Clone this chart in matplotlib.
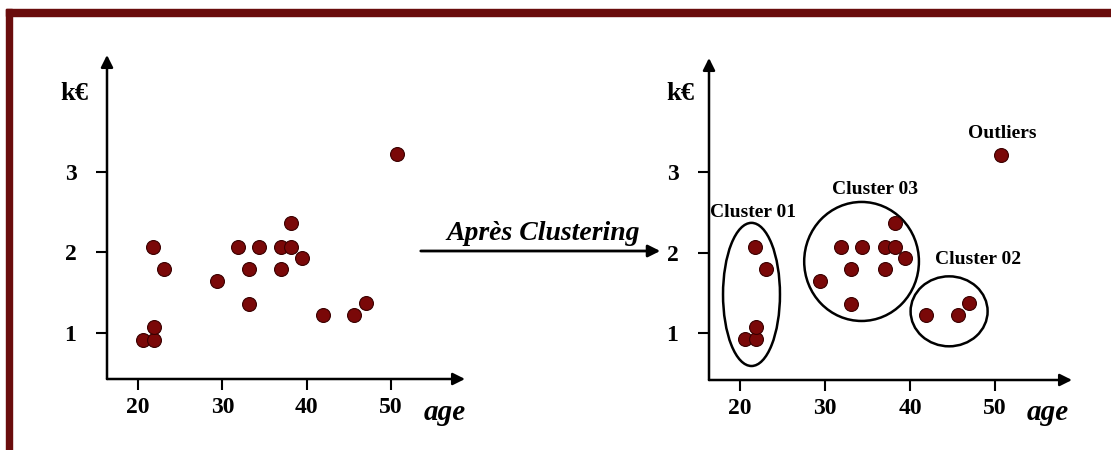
import matplotlib
matplotlib.use('Agg')
import matplotlib.pyplot as plt
from matplotlib.patches import Ellipse, Rectangle, FancyArrowPatch

plt.rcParams['font.family'] = ['Liberation Serif', 'DejaVu Serif']

# data (age, k€)
age = [21.8, 23.1, 20.6, 21.9, 21.9, 29.4, 31.9, 34.4, 33.1, 33.1,
       37.0, 38.2, 38.2, 39.4, 37.0, 41.9, 45.6, 47.0, 50.7]
income = [2.07, 1.80, 0.92, 0.92, 1.07, 1.65, 2.07, 2.07, 1.80, 1.36,
          2.07, 2.07, 2.37, 1.93, 1.80, 1.22, 1.22, 1.37, 3.22]

x_ticks = [20, 30, 40, 50]
y_ticks = [1, 2, 3]

# clusters: name, center, width, height, label position
cluster_names = ['Cluster 01', 'Cluster 03', 'Cluster 02']
cluster_centers = [(21.35, 1.48), (34.3, 1.89), (44.6, 1.27)]
cluster_sizes = [(6.7, 1.78), (13.5, 1.48), (9.06, 0.87)]
cluster_label_pos = [(21.5, 2.50), (35.9, 2.79), (48.0, 1.91)]
outlier_label_pos = (50.8, 3.48)

W, H = 1111, 450
fig = plt.figure(figsize=(W / 100, H / 100), dpi=100)

dot_color = '#7a0808'
frame_color = '#6a0d0d'


def px_box(x0, y_top, x1, y_bottom):
    return [x0 / W, 1 - y_bottom / H, (x1 - x0) / W, (y_bottom - y_top) / H]


def setup(ax, xlim, ylim):
    ax.set_xlim(*xlim)
    ax.set_ylim(*ylim)
    for s in ax.spines.values():
        s.set_visible(False)
    ax.patch.set_alpha(0)
    ax.set_xticks(x_ticks)
    ax.set_yticks(y_ticks)
    ax.tick_params(axis='x', direction='out', length=8, width=1.5, pad=5,
                   labelsize=17)
    ax.tick_params(axis='y', direction='out', length=8, width=1.5, pad=14,
                   labelsize=17)
    for lab in ax.get_xticklabels() + ax.get_yticklabels():
        lab.set_fontweight('bold')
    arrow = dict(arrowstyle='-|>', color='black', lw=1.8, mutation_scale=18,
                 shrinkA=0, shrinkB=0)
    ax.annotate('', xy=(1, 0), xytext=(0, 0), xycoords='axes fraction',
                arrowprops=arrow, annotation_clip=False)
    ax.annotate('', xy=(0, 1), xytext=(0, 0), xycoords='axes fraction',
                arrowprops=arrow, annotation_clip=False)
    ax.scatter(age, income, s=100, color=dot_color, edgecolor='#3a0000',
               linewidth=0.8, zorder=3, clip_on=False)


ax1 = fig.add_axes(px_box(107, 55, 465, 379))
setup(ax1, (16.3, 58.8), (0.43, 4.45))

ax2 = fig.add_axes(px_box(709, 58, 1072, 380))
setup(ax2, (16.35, 59.06), (0.416, 4.42))

for name, c, sz, lp in zip(cluster_names, cluster_centers, cluster_sizes,
                           cluster_label_pos):
    ax2.add_patch(Ellipse(c, sz[0], sz[1], fill=False, edgecolor='black',
                          lw=1.8, zorder=2))
    ax2.text(lp[0], lp[1], name, ha='center', va='center', fontsize=14,
             fontweight='bold')
ax2.text(outlier_label_pos[0], outlier_label_pos[1], 'Outliers',
         ha='center', va='center', fontsize=14, fontweight='bold')

# axis labels
for x in (74, 680):
    fig.text(x / W, 1 - 93 / H, 'k€', ha='center', va='center',
             fontsize=19, fontweight='bold')
for x in (445, 1048):
    fig.text(x / W, 1 - 413 / H, 'age', ha='center', va='center',
             fontsize=21, fontstyle='italic', fontweight='bold')

# middle arrow
fig.patches.append(FancyArrowPatch(
    (418 / W, 1 - 251 / H), (663 / W, 1 - 251 / H),
    transform=fig.transFigure, arrowstyle='-|>', mutation_scale=18,
    color='black', lw=2))
fig.text(543 / W, 1 - 234 / H, 'Après Clustering', ha='center',
         va='center', fontsize=20, fontstyle='italic', fontweight='bold')

# dark red frame (top and left)
fig.patches.append(Rectangle((6 / W, 1 - 16 / H), 1, 7 / H,
                             transform=fig.transFigure, color=frame_color))
fig.patches.append(Rectangle((6 / W, 0), 6 / W, 1 - 9 / H,
                             transform=fig.transFigure, color=frame_color))

fig.savefig('out.png', dpi=100)
